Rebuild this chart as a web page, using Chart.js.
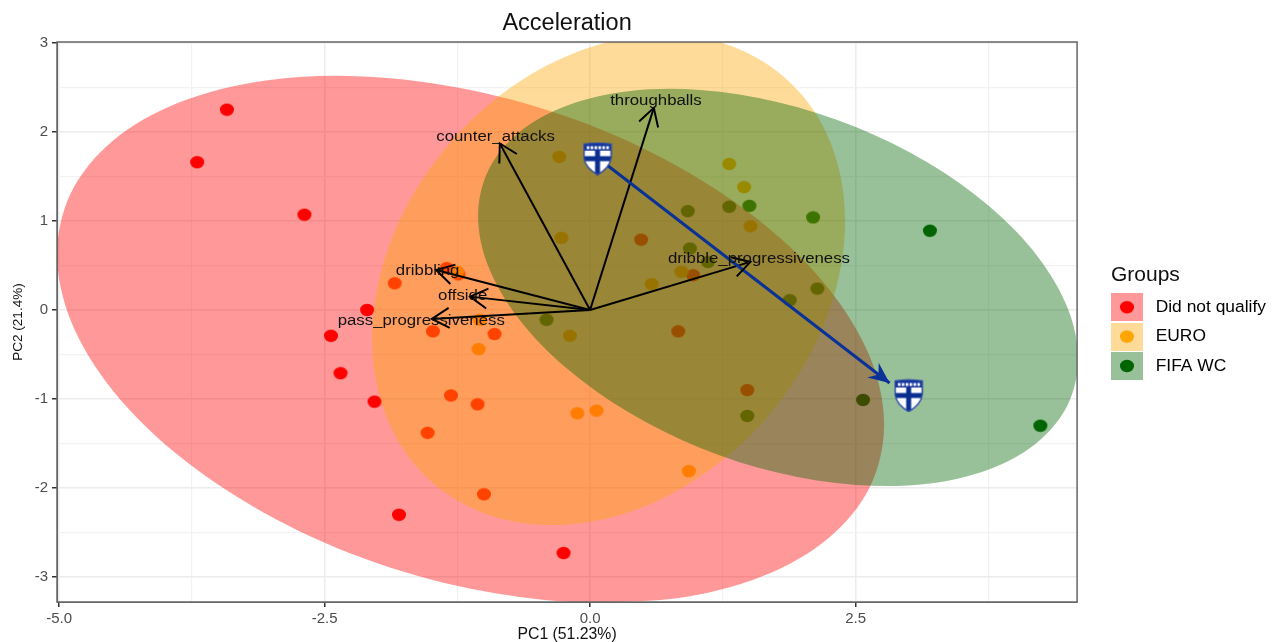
<!DOCTYPE html>
<html>
<head>
<meta charset="utf-8">
<title>Acceleration</title>
<script src="https://cdn.jsdelivr.net/npm/chart.js@4/dist/chart.umd.min.js"></script>
<style>
html,body{margin:0;padding:0;background:#fff;}
canvas{display:block;}
</style>
</head>
<body>
<canvas id="biplot" width="1276" height="642"></canvas>
<script>
const groups = ["Did not qualify","EURO","FIFA WC"];

// player points
const dnqX = [-3.42,-3.70,-2.69,-2.10,-2.44,-2.35,-2.03,-1.80,-1.84,-1.35,-1.24,-1.48,-0.90,-1.31,-1.06,-1.53,-1.00,-0.25,0.48,0.97,0.83,1.48];
const dnqY = [2.25,1.66,1.07,0.00,-0.29,-0.71,-1.03,-2.30,0.30,0.47,0.40,-0.24,-0.27,-0.96,-1.06,-1.38,-2.07,-2.73,0.79,0.39,-0.24,-0.90];
const euroX = [-0.29,1.31,1.45,-0.27,1.51,0.58,0.86,-0.19,-1.05,-1.04,-0.12,0.06,0.93,-1.25];
const euroY = [1.72,1.64,1.38,0.81,0.94,0.29,0.43,-0.29,-0.44,-0.11,-1.16,-1.13,-1.81,0.43];
const wcX = [0.92,1.31,1.50,2.10,3.20,0.94,1.11,1.88,2.14,-0.41,2.57,1.48,4.24];
const wcY = [1.11,1.16,1.17,1.04,0.89,0.69,0.54,0.11,0.24,-0.11,-1.01,-1.19,-1.30];

// group ellipse outlines
// each one runs a bit past its start so the spline has no corner where it closes
const dnqEllX = [2.637,2.769,2.637,2.247,1.628,0.822,-0.116,-1.125,-2.134,-3.072,-3.878,-4.497,-4.887,-5.019,-4.887,-4.497,-3.878,-3.072,-2.134,-1.125,-0.116,0.822,1.628,2.247,2.637,2.769,2.637];
const dnqEllY = [-0.532,-1.290,-1.982,-2.561,-2.989,-3.237,-3.285,-3.132,-2.789,-2.277,-1.633,-0.901,-0.130,0.628,1.320,1.899,2.327,2.575,2.623,2.470,2.127,1.615,0.971,0.239,-0.532,-1.290,-1.982];
const euroEllX = [2.325,2.401,2.325,2.103,1.748,1.288,0.751,0.174,-0.403,-0.940,-1.400,-1.755,-1.977,-2.053,-1.977,-1.755,-1.400,-0.940,-0.403,0.174,0.751,1.288,1.748,2.103,2.325,2.401,2.325];
const euroEllY = [1.668,0.998,0.284,-0.428,-1.086,-1.647,-2.074,-2.336,-2.416,-2.309,-2.020,-1.572,-0.994,-0.324,0.390,1.102,1.760,2.321,2.748,3.010,3.090,2.983,2.694,2.246,1.668,0.998,0.284];
const wcEllX = [4.499,4.595,4.499,4.216,3.767,3.183,2.502,1.770,1.038,0.358,-0.227,-0.676,-0.959,-1.055,-0.959,-0.676,-0.227,0.358,1.038,1.770,2.502,3.183,3.767,4.216,4.499,4.595,4.499];
const wcEllY = [0.016,-0.550,-1.062,-1.483,-1.786,-1.951,-1.965,-1.828,-1.549,-1.147,-0.650,-0.093,0.490,1.056,1.568,1.989,2.292,2.457,2.471,2.334,2.055,1.653,1.156,0.599,0.016,-0.550,-1.062];

// loading vectors
const vecNames = ["throughballs","counter_attacks","dribbling","offside","pass_progressiveness","dribble_progressiveness"];
const vecX = [0.60,-0.85,-1.45,-1.13,-1.49,1.51];
const vecY = [2.27,1.87,0.45,0.15,-0.10,0.54];
const vecLabelX = [0.62,-0.89,-1.53,-1.20,-1.59,1.59];
const vecLabelY = [2.35,1.94,0.44,0.16,-0.12,0.57];

// Finland move, badge to badge
const moveX = [0.07,2.82];
const moveY = [1.71,-0.82];
const badgeX = [0.07,3.00];
const badgeY = [1.70,-0.96];

const xMajor = [-5,-2.5,0,2.5];

function zip(xs,ys){
    return xs.map((x,i) => ({x:x,y:ys[i]}));
}

function makeCanvas(w,h){
    const c = document.createElement("canvas");
    c.width = w;
    c.height = h;
    return c;
}

function dot(color){
    const c = makeCanvas(16,14);
    const g = c.getContext("2d");
    g.fillStyle = color;
    g.beginPath();
    g.ellipse(8,7,7,6.2,0,0,Math.PI*2);
    g.fill();
    return c;
}

function legendKey(tint,color){
    const c = makeCanvas(36,28);
    const g = c.getContext("2d");
    g.fillStyle = tint;
    g.fillRect(0,0,32,28);
    g.fillStyle = color;
    g.beginPath();
    g.ellipse(16,14,7,6.2,0,0,Math.PI*2);
    g.fill();
    return c;
}

function badge(){
    const c = makeCanvas(30,34);
    const g = c.getContext("2d");
    const shield = () => {
        g.beginPath();
        g.moveTo(1.5,2.5);
        g.quadraticCurveTo(15,0.5,28.5,2.5);
        g.lineTo(28.5,16);
        g.quadraticCurveTo(27.5,26,15,33);
        g.quadraticCurveTo(2.5,26,1.5,16);
        g.closePath();
    };
    shield();
    g.fillStyle = "#fff";
    g.fill();
    g.save();
    shield();
    g.clip();
    g.fillStyle = "#12329a";
    g.fillRect(0,0,30,9);
    g.fillStyle = "#fff";
    for(let i = 0; i < 6; i++){
        g.fillRect(4.2+i*3.9,4.5,2.6,3);
    }
    g.fillStyle = "#0a2f8f";
    g.fillRect(12.5,9,5,25);
    g.fillRect(0,14.5,30,5);
    g.restore();
    shield();
    g.lineWidth = 1.5;
    g.strokeStyle = "#2a4aa5";
    g.stroke();
    return c;
}

const arrowHeads = {
    id:"arrowHeads",
    afterLayout(chart){
        // legend sits further right than the library would put it
        const lg = chart.legend;
        const w = lg.right-lg.left;
        const h = lg.bottom-lg.top;
        lg.left = 1099;
        lg.right = 1099+w;
        lg.top = 286.5;
        lg.bottom = 286.5+h;
    },
    afterDatasetsDraw(chart){
        const ctx = chart.ctx;
        const sx = chart.scales.x;
        const sy = chart.scales.y;
        ctx.save();

        // open black heads on the loadings
        ctx.strokeStyle = "#000";
        ctx.lineWidth = 2;
        vecX.forEach((vx,i) => {
            const tx = sx.getPixelForValue(vx);
            const ty = sy.getPixelForValue(vecY[i]);
            const a = Math.atan2(ty-sy.getPixelForValue(0),tx-sx.getPixelForValue(0));
            ctx.beginPath();
            ctx.moveTo(tx+20*Math.cos(a+2.62),ty+20*Math.sin(a+2.62));
            ctx.lineTo(tx,ty);
            ctx.lineTo(tx+20*Math.cos(a-2.62),ty+20*Math.sin(a-2.62));
            ctx.stroke();
        });

        // closed blue head
        const bx = sx.getPixelForValue(moveX[1]);
        const by = sy.getPixelForValue(moveY[1]);
        const ba = Math.atan2(by-sy.getPixelForValue(moveY[0]),bx-sx.getPixelForValue(moveX[0]));
        ctx.fillStyle = "#0a3296";
        ctx.beginPath();
        ctx.moveTo(bx,by);
        ctx.lineTo(bx+23*Math.cos(ba+2.72),by+23*Math.sin(ba+2.72));
        ctx.lineTo(bx+14*Math.cos(ba+Math.PI),by+14*Math.sin(ba+Math.PI));
        ctx.lineTo(bx+23*Math.cos(ba-2.72),by+23*Math.sin(ba-2.72));
        ctx.closePath();
        ctx.fill();

        // vector names, wider than tall like the source image
        ctx.fillStyle = "#111";
        ctx.font = "14px 'Liberation Sans'";
        ctx.textAlign = "center";
        ctx.textBaseline = "middle";
        vecNames.forEach((name,i) => {
            ctx.save();
            ctx.translate(sx.getPixelForValue(vecLabelX[i]),sy.getPixelForValue(vecLabelY[i]));
            ctx.scale(1.2,1);
            ctx.fillText(name,0,0);
            ctx.restore();
        });
        ctx.restore();
    },
    afterDraw(chart){
        const a = chart.chartArea;
        const ctx = chart.ctx;
        ctx.save();
        ctx.strokeStyle = "#666";
        ctx.lineWidth = 1.5;
        ctx.strokeRect(a.left,a.top,a.right-a.left,a.bottom-a.top);

        // legend heading
        ctx.fillStyle = "#111";
        ctx.font = "21px 'Liberation Sans'";
        ctx.textAlign = "left";
        ctx.textBaseline = "middle";
        ctx.fillText("Groups",1111,275);
        ctx.restore();
    }
};

function ellipseSet(name,xs,ys,color,order){
    return {
        label:name,
        data:zip(xs,ys),
        showLine:true,
        fill:"shape",
        backgroundColor:color,
        borderWidth:0,
        borderColor:"rgba(0,0,0,0)",
        pointRadius:0,
        tension:0.335,
        order:order
    };
}

function pointSet(name,xs,ys,color,order){
    return {
        label:name,
        data:zip(xs,ys),
        pointStyle:dot(color),
        showLine:false,
        order:order
    };
}

const datasets = [
    pointSet(groups[0],dnqX,dnqY,"#ff0000",100),
    pointSet(groups[1],euroX,euroY,"#ffa500",99),
    pointSet(groups[2],wcX,wcY,"#006400",98),
    ellipseSet(groups[0],dnqEllX,dnqEllY,"rgba(255,0,0,0.4)",90),
    ellipseSet(groups[1],euroEllX,euroEllY,"rgba(255,165,0,0.4)",89),
    ellipseSet(groups[2],wcEllX,wcEllY,"rgba(0,100,0,0.4)",88)
];

vecX.forEach((vx,i) => {
    datasets.push({
        label:vecNames[i],
        data:[{x:0,y:0},{x:vx,y:vecY[i]}],
        showLine:true,
        borderColor:"#000",
        borderWidth:2,
        pointRadius:0,
        order:50
    });
});

datasets.push({
    label:"move",
    data:zip(moveX,moveY),
    showLine:true,
    borderColor:"#0a3296",
    borderWidth:3,
    pointRadius:0,
    order:40
});

datasets.push({
    label:"Finland",
    data:zip(badgeX,badgeY),
    pointStyle:badge(),
    showLine:false,
    order:30
});

const legendKeys = [
    legendKey("#ff9999","#ff0000"),
    legendKey("#ffdb99","#ffa500"),
    legendKey("#99c199","#006400")
];

new Chart(
    document.getElementById("biplot"),
    {
        type:"scatter",
        data:{datasets:datasets},
        plugins:[arrowHeads],
        options:{
            responsive:false,
            animation:false,
            layout:{padding:{right:22}},
            font:{family:"'Liberation Sans'"},
            plugins:{
                tooltip:{enabled:false},
                title:{
                    display:true,
                    text:"Acceleration",
                    fullSize:false,
                    color:"#111",
                    font:{family:"'Liberation Sans'",size:23.5,weight:"normal"},
                    padding:{top:9.5,bottom:4.3}
                },
                legend:{
                    display:true,
                    position:"right",
                    align:"start",
                    labels:{
                        usePointStyle:true,
                        pointStyleWidth:36,
                        padding:12,
                        color:"#222",
                        font:{family:"'Liberation Sans'",size:17.4},
                        generateLabels:() => groups.map((g,i) => ({
                            text:g,
                            pointStyle:legendKeys[i],
                            hidden:false,
                            datasetIndex:i
                        }))
                    }
                }
            },
            scales:{
                x:{
                    type:"linear",
                    min:-5.02,
                    max:4.586,
                    afterFit:s => { s.height = 40; },
                    title:{
                        display:true,
                        text:"PC1 (51.23%)",
                        color:"#111",
                        font:{family:"'Liberation Sans'",size:15.8},
                        padding:{top:0,bottom:-2}
                    },
                    grid:{
                        color:c => xMajor.includes(c.tick.value) ? "#ececec" : "#f2f2f2",
                        lineWidth:c => xMajor.includes(c.tick.value) ? 1.5 : 1.2,
                        tickColor:c => xMajor.includes(c.tick.value) ? "#333" : "rgba(0,0,0,0)",
                        tickLength:5
                    },
                    border:{color:"#666"},
                    ticks:{
                        stepSize:1.25,
                        includeBounds:false,
                        autoSkip:false,
                        maxRotation:0,
                        padding:3,
                        color:"#4d4d4d",
                        font:{family:"'Liberation Sans'",size:15},
                        callback:v => xMajor.includes(v) ? v.toFixed(1) : ""
                    }
                },
                y:{
                    type:"linear",
                    min:-3.28,
                    max:3.01,
                    afterFit:s => { s.width = 57; },
                    title:{
                        display:true,
                        text:"PC2 (21.4%)",
                        color:"#111",
                        font:{family:"'Liberation Sans'",size:13.5},
                        padding:{top:10,bottom:0}
                    },
                    grid:{
                        color:c => Number.isInteger(c.tick.value) ? "#ececec" : "#f2f2f2",
                        lineWidth:c => Number.isInteger(c.tick.value) ? 1.5 : 1.2,
                        tickColor:c => Number.isInteger(c.tick.value) ? "#333" : "rgba(0,0,0,0)",
                        tickLength:5
                    },
                    border:{color:"#666"},
                    ticks:{
                        stepSize:0.5,
                        includeBounds:false,
                        autoSkip:false,
                        padding:4,
                        color:"#4d4d4d",
                        font:{family:"'Liberation Sans'",size:15},
                        callback:v => Number.isInteger(v) ? String(v) : ""
                    }
                }
            }
        }
    }
);
</script>
</body>
</html>
